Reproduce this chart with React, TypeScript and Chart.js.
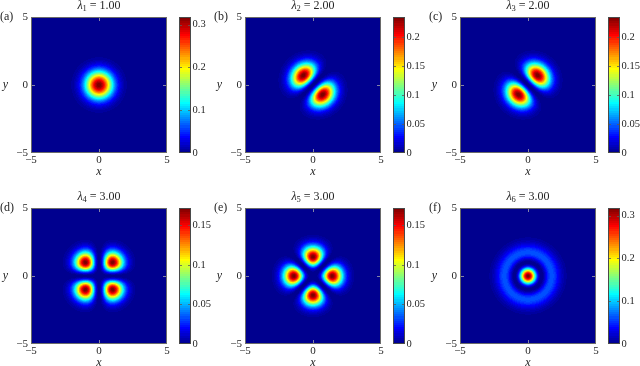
import React, { useEffect, useRef } from 'react';
import { Chart, registerables } from 'chart.js';

Chart.register(...registerables);

// ---------------- data ----------------
const panelLabels = ['(a)', '(b)', '(c)', '(d)', '(e)', '(f)'];
const eigenIndices = [1, 2, 3, 4, 5, 6];
const eigenvalues = [1.0, 2.0, 2.0, 3.0, 3.0, 3.0];
// Each panel shows |psi|^2 of a 2-D oscillator state psi = P(x,y) e^{-r^2/2} / sqrt(pi);
// the polynomial factor P for each panel:
const statePolynomials = ['1', 'x-y', 'x+y', '2xy', 'x2-y2', 'r2-1'];
// colour-axis upper limits
const colorMaxima = [0.318, 0.234, 0.234, 0.172, 0.172, 0.318];
// colour-bar tick labels
const cbTicksA = [0, 0.1, 0.2, 0.3];
const cbTicksB = [0, 0.05, 0.1, 0.15, 0.2];
const cbTicksC = [0, 0.05, 0.1, 0.15, 0.2];
const cbTicksD = [0, 0.05, 0.1, 0.15];
const cbTicksE = [0, 0.05, 0.1, 0.15];
const cbTicksF = [0, 0.1, 0.2, 0.3];
const colorBarTicks = [cbTicksA, cbTicksB, cbTicksC, cbTicksD, cbTicksE, cbTicksF];
// spatial axes
const axisTicks = [-5, 0, 5];
const axisMin = -5;
const axisMax = 5;

// ---------------- layout / style ----------------
const FONT = '"Liberation Serif", "DejaVu Serif", serif';
const TEXT = '#262626';
const PLOT = 136;
const plotLefts = [31, 245, 460];
const plotTops = [17, 208];
const L = 32;
const T = 17;
const R = 4;
const B = 26;
const CB_OFFSET = 148;
const CB_W = 12;
const CB_R = 24;
const GRID = 136;

// MATLAB jet(64)
function jetU(k: number) {
  if (k >= 1 && k <= 16) return k / 16;
  if (k >= 17 && k <= 31) return 1;
  if (k >= 32 && k <= 47) return (48 - k) / 16;
  return 0;
}
const JET: string[] = Array.from({ length: 64 }, (_, i0) => {
  const i = i0 + 1;
  const r = jetU(i - 24), g = jetU(i - 8), b = jetU(i + 8);
  return `rgb(${Math.round(r * 255)},${Math.round(g * 255)},${Math.round(b * 255)})`;
});

function polyValue(name: string, x: number, y: number) {
  switch (name) {
    case '1': return 1;
    case 'x-y': return x - y;
    case 'x+y': return x + y;
    case '2xy': return 2 * x * y;
    case 'x2-y2': return x * x - y * y;
    default: return x * x + y * y - 1;
  }
}

function density(k: number, x: number, y: number) {
  const p = polyValue(statePolynomials[k], x, y);
  return (p * p * Math.exp(-(x * x + y * y))) / Math.PI;
}

const fmt = (v: number) => (v < 0 ? '\u2212' + String(-v) : String(v));

function makeHeatPlugin(k: number) {
  let field: Float64Array | null = null;
  const cmax = colorMaxima[k];
  return {
    id: 'heat' + k,
    beforeDatasetsDraw(chart: any) {
      const xs = chart.scales.x, ys = chart.scales.y, ctx = chart.ctx;
      const step = (axisMax - axisMin) / GRID;
      if (!field) {
        field = new Float64Array(GRID * GRID);
        for (let j = 0; j < GRID; j++) {
          const yv = axisMin + (j + 0.5) * step;
          for (let i = 0; i < GRID; i++) {
            const xv = axisMin + (i + 0.5) * step;
            field[j * GRID + i] = density(k, xv, yv);
          }
        }
      }
      ctx.save();
      for (let j = 0; j < GRID; j++) {
        const yTop = Math.round(ys.getPixelForValue(axisMin + (j + 1) * step));
        const yBot = Math.round(ys.getPixelForValue(axisMin + j * step));
        for (let i = 0; i < GRID; i++) {
          const x0 = Math.round(xs.getPixelForValue(axisMin + i * step));
          const x1 = Math.round(xs.getPixelForValue(axisMin + (i + 1) * step));
          let idx = Math.floor((field[j * GRID + i] / cmax) * 64);
          if (idx < 0) idx = 0;
          if (idx > 63) idx = 63;
          ctx.fillStyle = JET[idx];
          ctx.fillRect(x0, yTop, x1 - x0, yBot - yTop);
        }
      }
      ctx.restore();
    },
    afterDatasetsDraw(chart: any) {
      const ca = chart.chartArea, ctx = chart.ctx;
      const xs = chart.scales.x, ys = chart.scales.y;
      ctx.save();
      ctx.strokeStyle = '#6a6a6a';
      ctx.lineWidth = 1;
      ctx.strokeRect(ca.left + 0.5, ca.top + 0.5, ca.right - ca.left - 1, ca.bottom - ca.top - 1);
      ctx.strokeStyle = 'rgba(175,175,175,0.75)';
      ctx.beginPath();
      axisTicks.forEach((t) => {
        if (t === axisMin || t === axisMax) return;
        const px = Math.round(xs.getPixelForValue(t)) + 0.5;
        ctx.moveTo(px, ca.top + 1); ctx.lineTo(px, ca.top + 4);
        ctx.moveTo(px, ca.bottom - 1); ctx.lineTo(px, ca.bottom - 4);
        const py = Math.round(ys.getPixelForValue(t)) + 0.5;
        ctx.moveTo(ca.left + 1, py); ctx.lineTo(ca.left + 4, py);
        ctx.moveTo(ca.right - 1, py); ctx.lineTo(ca.right - 4, py);
      });
      ctx.stroke();
      ctx.restore();
    },
    afterDraw(chart: any) {
      const ca = chart.chartArea, ctx = chart.ctx;
      ctx.save();
      ctx.fillStyle = TEXT;
      ctx.font = `12px ${FONT}`;
      ctx.textAlign = 'left';
      ctx.textBaseline = 'middle';
      ctx.fillText(panelLabels[k], ca.left - 31, ca.top - 0.5);
      ctx.font = `italic 12px ${FONT}`;
      ctx.textAlign = 'center';
      ctx.fillText('y', ca.left - 25.5, (ca.top + ca.bottom) / 2);
      const parts = [
        { text: '\u03bb', font: `italic 12px ${FONT}`, dy: 0 },
        { text: String(eigenIndices[k]), font: `8.5px ${FONT}`, dy: 2.5 },
        { text: ' = ' + eigenvalues[k].toFixed(2), font: `12px ${FONT}`, dy: 0 },
      ];
      let total = 0;
      const widths = parts.map((p) => { ctx.font = p.font; const w = ctx.measureText(p.text).width; total += w; return w; });
      let x = (ca.left + ca.right) / 2 - total / 2;
      const base = ca.top - 12.5 + 4;
      ctx.textAlign = 'left';
      ctx.textBaseline = 'alphabetic';
      parts.forEach((p, i) => { ctx.font = p.font; ctx.fillText(p.text, x, base + p.dy); x += widths[i]; });
      ctx.restore();
    },
  };
}

function makeColorBarPlugin(k: number) {
  const cmax = colorMaxima[k];
  return {
    id: 'cbar' + k,
    beforeDatasetsDraw(chart: any) {
      const ca = chart.chartArea, ctx = chart.ctx, ys = chart.scales.y;
      ctx.save();
      for (let i = 0; i < 64; i++) {
        const y0 = Math.round(ys.getPixelForValue((i / 64) * cmax));
        const y1 = Math.round(ys.getPixelForValue(((i + 1) / 64) * cmax));
        ctx.fillStyle = JET[i];
        ctx.fillRect(ca.left, y1, ca.right - ca.left, y0 - y1);
      }
      ctx.strokeStyle = '#4a4a4a';
      ctx.lineWidth = 1;
      ctx.strokeRect(ca.left + 0.5, ca.top + 0.5, ca.right - ca.left - 1, ca.bottom - ca.top - 1);
      ctx.strokeStyle = 'rgba(90,90,90,0.8)';
      ctx.beginPath();
      colorBarTicks[k].forEach((t) => {
        if (t === 0) return;
        const py = Math.round(ys.getPixelForValue(t)) + 0.5;
        ctx.moveTo(ca.left + 1, py); ctx.lineTo(ca.left + 3, py);
        ctx.moveTo(ca.right - 1, py); ctx.lineTo(ca.right - 3, py);
      });
      ctx.stroke();
      ctx.restore();
    },
  };
}

function Panel({ idx }: { idx: number }) {
  const heatRef = useRef<HTMLCanvasElement>(null);
  const cbRef = useRef<HTMLCanvasElement>(null);
  const col = idx % 3;
  const row = Math.floor(idx / 3);
  const plotLeft = plotLefts[col];
  const plotTop = plotTops[row];
  const heatW = L + PLOT + R;
  const heatH = T + PLOT + B;
  const cbW = CB_W + CB_R;

  useEffect(() => {
    const tickFont = { family: FONT, size: 11 };
    const cbFont = { family: FONT, size: 10.5 };
    const heat = new Chart(heatRef.current!, {
      type: 'scatter',
      data: { datasets: [{ data: [], pointRadius: 0 }] },
      options: {
        responsive: false,
        animation: false,
        devicePixelRatio: 1,
        events: [],
        layout: { padding: { top: T, right: R, left: 0, bottom: 0 } },
        plugins: { legend: { display: false }, tooltip: { enabled: false }, title: { display: false } },
        scales: {
          x: {
            type: 'linear', min: axisMin, max: axisMax,
            grid: { display: false, drawTicks: false },
            border: { display: false },
            ticks: { padding: 1, font: tickFont, color: TEXT, autoSkip: false, maxRotation: 0, callback: (v: any) => fmt(Number(v)) },
            afterBuildTicks: (s: any) => { s.ticks = axisTicks.map((v) => ({ value: v })); },
            afterFit: (s: any) => { s.height = B; s.paddingLeft = 0; s.paddingRight = 0; },
            title: { display: true, text: 'x', color: TEXT, font: { family: FONT, size: 12, style: 'italic' }, padding: { top: 0, bottom: 0 } },
          },
          y: {
            type: 'linear', min: axisMin, max: axisMax, position: 'left',
            grid: { display: false, drawTicks: false },
            border: { display: false },
            ticks: { padding: 3, font: tickFont, color: TEXT, autoSkip: false, callback: (v: any) => fmt(Number(v)) },
            afterBuildTicks: (s: any) => { s.ticks = axisTicks.map((v) => ({ value: v })); },
            afterFit: (s: any) => { s.width = L; s.paddingTop = 0; s.paddingBottom = 0; },
          },
        },
      } as any,
      plugins: [makeHeatPlugin(idx)],
    });
    const cb = new Chart(cbRef.current!, {
      type: 'scatter',
      data: { datasets: [{ data: [], pointRadius: 0 }] },
      options: {
        responsive: false,
        animation: false,
        devicePixelRatio: 1,
        events: [],
        layout: { padding: { top: T, right: 0, left: 0, bottom: B } },
        plugins: { legend: { display: false }, tooltip: { enabled: false }, title: { display: false } },
        scales: {
          x: { type: 'linear', display: false, min: 0, max: 1 },
          y: {
            type: 'linear', position: 'right', min: 0, max: colorMaxima[idx],
            grid: { display: false, drawTicks: false },
            border: { display: false },
            ticks: { padding: 1.5, font: cbFont, color: TEXT, autoSkip: false, callback: (v: any) => fmt(Number(v)) },
            afterBuildTicks: (s: any) => { s.ticks = colorBarTicks[idx].map((v) => ({ value: v })); },
            afterFit: (s: any) => { s.width = CB_R; s.paddingTop = 0; s.paddingBottom = 0; },
          },
        },
      } as any,
      plugins: [makeColorBarPlugin(idx)],
    });
    return () => { heat.destroy(); cb.destroy(); };
  }, [idx]);

  return (
    <>
      <canvas
        ref={heatRef}
        width={heatW}
        height={heatH}
        style={{ position: 'absolute', left: plotLeft - L, top: plotTop - T, width: heatW, height: heatH, display: 'block' }}
      />
      <canvas
        ref={cbRef}
        width={cbW}
        height={heatH}
        style={{ position: 'absolute', left: plotLeft + CB_OFFSET, top: plotTop - T, width: cbW, height: heatH, display: 'block' }}
      />
    </>
  );
}

export default function App() {
  return (
    <div style={{ position: 'absolute', left: 0, top: 0, width: 640, height: 366, overflow: 'hidden', background: '#ffffff' }}>
      {panelLabels.map((_, i) => (
        <Panel key={i} idx={i} />
      ))}
    </div>
  );
}
